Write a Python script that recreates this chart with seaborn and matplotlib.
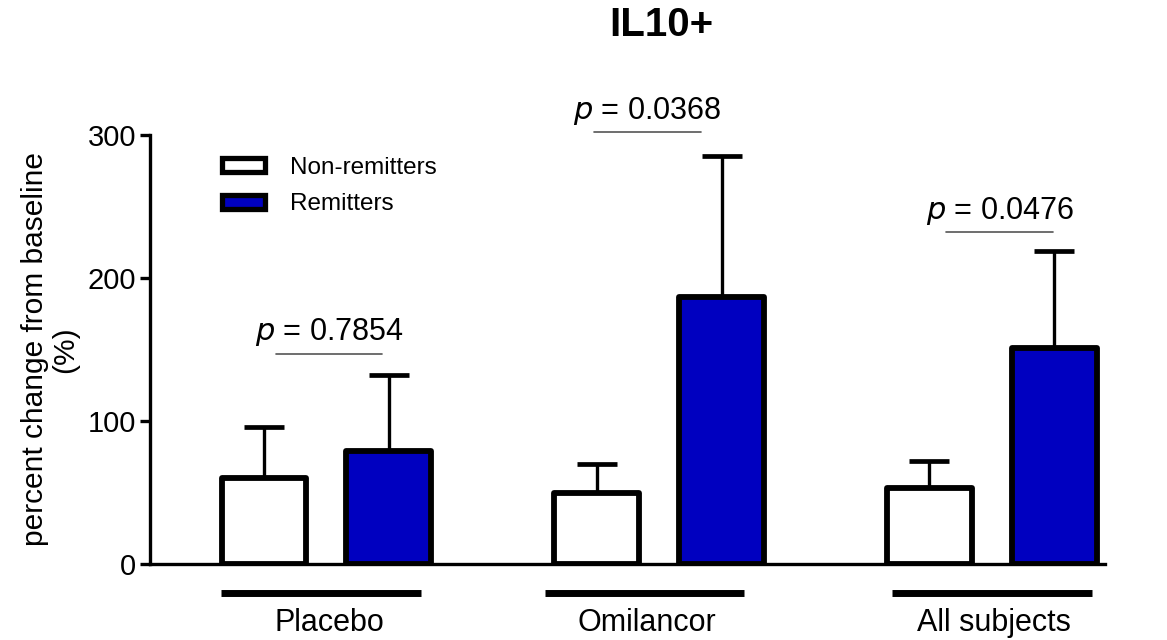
import matplotlib
matplotlib.use("Agg")
import matplotlib.pyplot as plt
import seaborn as sns
import pandas as pd
import numpy as np
from matplotlib.patches import Patch

sns.set_theme(style="white")
plt.rcParams['font.family'] = ['Liberation Sans', 'DejaVu Sans']
plt.rcParams['text.color'] = 'black'
plt.rcParams['axes.labelcolor'] = 'black'
plt.rcParams['xtick.color'] = 'black'
plt.rcParams['ytick.color'] = 'black'

groups = ["Placebo", "Omilancor", "All subjects"]
statuses = ["Non-remitters", "Remitters"]
non_means = [60, 50, 53]
non_errs = [36, 20, 19]
rem_means = [79, 187, 151]
rem_errs = [53, 98, 68]
p_labels = ["0.7854", "0.0368", "0.0476"]
title = "IL10+"
ylabel = "percent change from baseline\n(%)"

rows = []
for g, m, e in zip(groups, non_means, non_errs):
    rows.append({"group": g, "status": statuses[0], "value": m, "err": e})
for g, m, e in zip(groups, rem_means, rem_errs):
    rows.append({"group": g, "status": statuses[1], "value": m, "err": e})
df = pd.DataFrame(rows)

BLUE = "#0000C0"
fig = plt.figure(figsize=(11.67, 6.4), dpi=100)
ax = fig.add_axes([150/1167, 76/640, 955/1167, 429/640])

sns.barplot(data=df, x="group", y="value", hue="status", order=groups,
            hue_order=statuses, palette={statuses[0]: "white", statuses[1]: BLUE},
            saturation=1, edgecolor="black", linewidth=4.2, width=0.75, gap=0.32,
            errorbar=None, ax=ax, legend=False, zorder=3)

for cont, errs in zip(ax.containers, [non_errs, rem_errs]):
    xs = [p.get_x() + p.get_width() / 2 for p in cont.patches]
    hs = [p.get_height() for p in cont.patches]
    for p in cont.patches:
        p.set_joinstyle("round")
    ax.errorbar(xs, hs, yerr=[np.zeros(len(errs)), errs], fmt="none",
                ecolor="black", elinewidth=2.4, capsize=14.5, capthick=3.4, zorder=2)

ax.set_xlim(-0.53, 2.34)
ax.set_ylim(0, 300)
ax.set_yticks([0, 100, 200, 300])
ax.set_yticklabels(["0", "100", "200", "300"], fontsize=21)
ax.tick_params(axis="y", direction="out", length=7, width=2.4, color="black", pad=3, left=True)
ax.tick_params(axis="x", bottom=False, labelbottom=False)
ax.set_xlabel("")
ax.set_ylabel(ylabel, fontsize=21.5, labelpad=6, linespacing=1.1)
for s in ["top", "right"]:
    ax.spines[s].set_visible(False)
for s in ["left", "bottom"]:
    ax.spines[s].set_linewidth(2.4)
    ax.spines[s].set_color("black")

# group underlines and labels
line_offsets = [-0.017, -0.044, 0.0]
label_offsets = [0.008, -0.037, 0.006]
for i, g in enumerate(groups):
    c = i + line_offsets[i]
    ax.plot([c - 0.3, c + 0.3], [-20.5, -20.5], color="black", lw=5,
            solid_capstyle="butt", clip_on=False)
    ax.text(i + label_offsets[i], -41, g, ha="center", va="center", fontsize=22, clip_on=False)

# p-value annotations (offsets relative to each group centre)
p_line_y = [147, 302, 232]
p_line_x = [(-0.15, 0.168), (-0.197, 0.126), (-0.138, 0.185)]
p_text_x = [0.01, -0.035, 0.024]
for i in range(3):
    (x0, x1) = p_line_x[i]
    ax.plot([i + x0, i + x1], [p_line_y[i], p_line_y[i]], color="#555555", lw=1.2, clip_on=False)
    ax.text(i + p_text_x[i], p_line_y[i] + 15, r"$p$ = " + p_labels[i], ha="center",
            va="center", fontsize=22, clip_on=False)

handles = [Patch(facecolor="white", edgecolor="black", linewidth=3.8, joinstyle="round"),
           Patch(facecolor=BLUE, edgecolor="black", linewidth=3.8, joinstyle="round")]
ax.legend(handles, statuses, loc="upper left", bbox_to_anchor=(0.052, 1.0),
          frameon=False, fontsize=17.5, handlelength=1.8, handleheight=0.5,
          handletextpad=1.0, labelspacing=0.6)

fig.text(661/1167, 1 - 25/640, title, ha="center", va="center", fontsize=29, fontweight="bold")

fig.savefig("out.png", dpi=100, facecolor="white")
